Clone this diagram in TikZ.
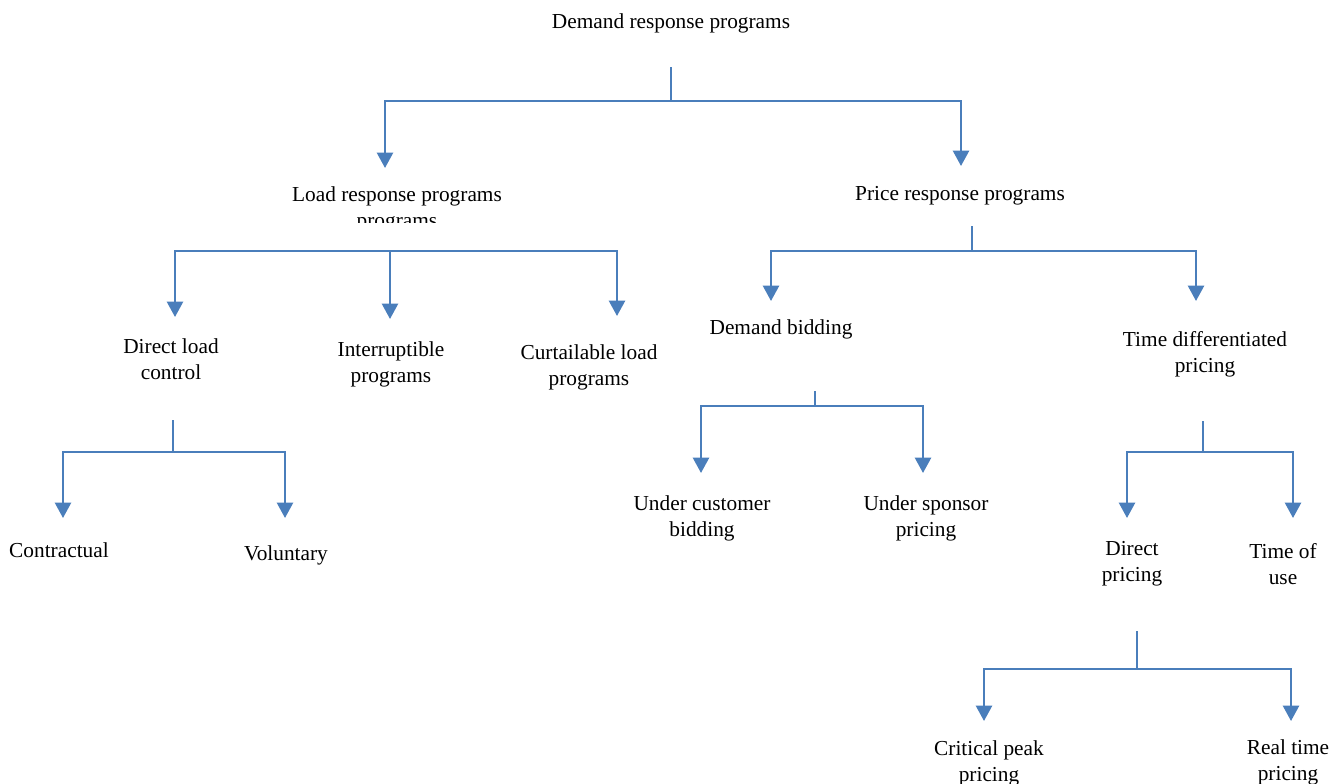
\documentclass[tikz,border=0pt]{standalone}
\usepackage{fontspec}
\setmainfont{Liberation Serif}
\usetikzlibrary{arrows.meta}
\definecolor{lineblue}{RGB}{74,126,187}
\begin{document}
\begin{tikzpicture}[x=0.75pt,y=-0.75pt,
 lbl/.style={align=center,inner sep=0pt,font=\fontsize{16}{19.5}\selectfont},
 conn/.style={draw=lineblue,line width=1.8pt},
 arr/.style={conn,-{Triangle[width=12pt,length=11.5pt]}}]
\useasboundingbox (0,0) rectangle (1334,783);

% nodes
\node[lbl] (drp) at (671,23) {Demand response programs};
\begin{scope}
\clip (250,150) rectangle (550,222);
\node[lbl] (lrp) at (397,209) {Load response programs\\programs};
\end{scope}
\node[lbl] (prp) at (960,196) {Price response programs};
\node[lbl] (dlc) at (171,359) {Direct load\\control};
\node[lbl] (ip) at (391,364) {Interruptible\\programs};
\node[lbl] (clp) at (589,367) {Curtailable load\\programs};
\node[lbl] (db) at (781,329) {Demand bidding};
\node[lbl] (tdp) at (1205,354) {Time differentiated\\pricing};
\node[lbl] (con) at (59,550) {Contractual};
\node[lbl] (vol) at (286,555) {Voluntary};
\node[lbl] (ucb) at (702,518) {Under customer\\bidding};
\node[lbl] (usp) at (926,518) {Under sponsor\\pricing};
\node[lbl] (dp) at (1132,564) {Direct\\pricing};
\node[lbl] (tou) at (1283,564) {Time of\\use};
\node[lbl] (cpp) at (989,763) {Critical peak\\pricing};
\node[lbl] (rtp) at (1288,762) {Real time\\pricing};

% top level
\coordinate (s0) at (671,67);
\coordinate (j0) at (671,101);
\coordinate (a1) at (385,168);
\coordinate (a2) at (961,166);
\draw[conn] (s0) -- (j0);
\draw[arr] (j0) -| (a1);
\draw[arr] (j0) -| (a2);

% load response level
\coordinate (j1) at (390,251);
\coordinate (b1) at (175,317);
\coordinate (b2) at (390,319);
\coordinate (b3) at (617,316);
\draw[arr] (j1) -| (b1);
\draw[arr] (j1) -- (b2);
\draw[arr] (j1) -| (b3);

% price response level
\coordinate (s2) at (972,226);
\coordinate (j2) at (972,251);
\coordinate (c1) at (771,301);
\coordinate (c2) at (1196,301);
\draw[conn] (s2) -- (j2);
\draw[arr] (j2) -| (c1);
\draw[arr] (j2) -| (c2);

% direct load control level
\coordinate (s3) at (173,420);
\coordinate (j3) at (173,452);
\coordinate (d1) at (63,518);
\coordinate (d2) at (285,518);
\draw[conn] (s3) -- (j3);
\draw[arr] (j3) -| (d1);
\draw[arr] (j3) -| (d2);

% demand bidding level
\coordinate (s4) at (815,391);
\coordinate (j4) at (815,406);
\coordinate (e1) at (701,473);
\coordinate (e2) at (923,473);
\draw[conn] (s4) -- (j4);
\draw[arr] (j4) -| (e1);
\draw[arr] (j4) -| (e2);

% time differentiated level
\coordinate (s5) at (1203,421);
\coordinate (j5) at (1203,452);
\coordinate (f1) at (1127,518);
\coordinate (f2) at (1293,518);
\draw[conn] (s5) -- (j5);
\draw[arr] (j5) -| (f1);
\draw[arr] (j5) -| (f2);

% direct pricing level
\coordinate (s6) at (1137,631);
\coordinate (j6) at (1137,669);
\coordinate (g1) at (984,721);
\coordinate (g2) at (1291,721);
\draw[conn] (s6) -- (j6);
\draw[arr] (j6) -| (g1);
\draw[arr] (j6) -| (g2);
\end{tikzpicture}
\end{document}
